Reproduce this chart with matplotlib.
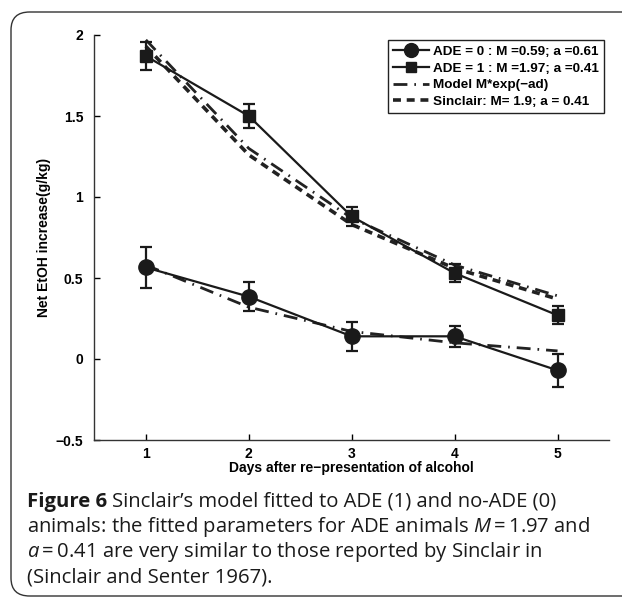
import matplotlib
matplotlib.use("Agg")
import matplotlib.pyplot as plt
from matplotlib.patches import FancyBboxPatch
from matplotlib.lines import Line2D

days = [1, 2, 3, 4, 5]
ade1_mean = [1.87, 1.50, 0.88, 0.53, 0.27]
ade1_err = [0.085, 0.075, 0.06, 0.055, 0.055]
ade0_mean = [0.565, 0.385, 0.14, 0.14, -0.07]
ade0_err = [0.125, 0.09, 0.09, 0.065, 0.10]
model1 = [1.97, 1.30, 0.87, 0.58, 0.39]
model0 = [0.58, 0.32, 0.17, 0.10, 0.05]
sinclair = [1.93, 1.26, 0.83, 0.56, 0.37]

leg_labels = ["ADE = 0 : M =0.59; a =0.61", "ADE = 1 : M =1.97; a =0.41",
              "Model M*exp(\u2212ad)", "Sinclair: M= 1.9; a = 0.41"]
yticks = [-0.5, 0, 0.5, 1, 1.5, 2]
yticklabels = ["\u22120.5", "0", "0.5", "1", "1.5", "2"]

AX_FONT = ["Liberation Sans", "DejaVu Sans"]
CAP_FONT = "Open Sans"
AFS = 10

W, H = 622, 599
fig = plt.figure(figsize=(W / 100, H / 100), dpi=100)

# card border
card = FancyBboxPatch((11 / W, 3 / H), 1.2, (H - 15) / H,
                      boxstyle="round,pad=0,rounding_size=0.03",
                      transform=fig.transFigure, fill=False,
                      edgecolor="#333333", linewidth=1.0)
fig.patches.append(card)

ax = fig.add_axes([94.4 / W, 1 - 440 / H, (609 - 94.4) / W, (440 - 35) / H])

dd = (0, (5, 2.5, 0.6, 2.5))
ax.plot(days, model1, color="#222222", lw=2.0, linestyle=dd, zorder=2)
ax.plot(days, model0, color="#222222", lw=2.0, linestyle=dd, zorder=2)
ax.plot(days, sinclair, color="#222222", lw=2.6, linestyle=(0, (2.2, 1.6)), zorder=2)

ax.errorbar(days, ade1_mean, yerr=ade1_err, color="#1a1a1a", lw=1.6, marker="s",
            markersize=8, capsize=4, capthick=1.6, elinewidth=1.6, zorder=3)
ax.errorbar(days, ade0_mean, yerr=ade0_err, color="#1a1a1a", lw=1.6, marker="o",
            markersize=11, capsize=4, capthick=1.6, elinewidth=1.6, zorder=3)

ax.set_xlim(0.5, 5.5)
ax.set_ylim(-0.5, 2)
ax.set_xticks(days)
ax.set_xticklabels([str(d) for d in days], fontfamily=AX_FONT, fontweight="bold", fontsize=AFS)
ax.set_yticks(yticks)
ax.set_yticklabels(yticklabels, fontfamily=AX_FONT, fontweight="bold", fontsize=AFS)
ax.tick_params(axis="x", direction="in", length=4, width=1, pad=5)
ax.tick_params(axis="y", direction="in", length=4, width=1, pad=8)
for s in ["top", "right"]:
    ax.spines[s].set_visible(False)
for s in ["left", "bottom"]:
    ax.spines[s].set_linewidth(1.0)
    ax.spines[s].set_color("#333333")

ax.set_xlabel("Days after re\u2212presentation of alcohol", fontfamily=AX_FONT,
              fontweight="bold", fontsize=AFS, labelpad=0)
ax.set_ylabel("Net EtOH increase(g/kg)", fontfamily=AX_FONT, fontweight="bold",
              fontsize=AFS, labelpad=3)

handles = [
    Line2D([], [], color="#1a1a1a", lw=1.6, marker="o", markersize=10),
    Line2D([], [], color="#1a1a1a", lw=1.6, marker="s", markersize=7.5),
    Line2D([], [], color="#222222", lw=2.0, linestyle=dd),
    Line2D([], [], color="#222222", lw=2.6, linestyle=(0, (2.2, 1.6))),
]
leg = ax.legend(handles, leg_labels, loc="upper right", bbox_to_anchor=(1.0 - 5 / 515, 1.0 - 5 / 405),
                prop={"family": AX_FONT, "weight": "bold", "size": 9.7},
                frameon=True, fancybox=False, edgecolor="#222222", framealpha=1,
                handlelength=2.7, handletextpad=0.25, borderpad=0.4, labelspacing=0.32,
                borderaxespad=0)
leg.get_frame().set_linewidth(1.0)

# caption
plt.rcParams["mathtext.fontset"] = "custom"
plt.rcParams["mathtext.it"] = CAP_FONT + ":italic"
plt.rcParams["mathtext.rm"] = CAP_FONT
cx = 27 / W
fs = 14.6
ys = [502, 527, 552, 577]
t1 = fig.text(cx, 1 - ys[0] / H, "Figure 6", fontfamily=CAP_FONT, fontweight="bold",
              fontsize=fs, va="center", ha="left", color="#1a1a1a")
fig.canvas.draw()
bb = t1.get_window_extent()
fig.text(bb.x1 / W + 5 / W, 1 - ys[0] / H, "Sinclair\u2019s model fitted to ADE (1) and no-ADE (0)",
         fontfamily=CAP_FONT, fontsize=fs, va="center", ha="left", color="#1a1a1a")
fig.text(cx, 1 - ys[1] / H, "animals: the fitted parameters for ADE animals $M$\u2009=\u20091.97 and",
         fontfamily=CAP_FONT, fontsize=fs, va="center", ha="left", color="#1a1a1a")
fig.text(cx, 1 - ys[2] / H, "$a$\u2009=\u20090.41 are very similar to those reported by Sinclair in",
         fontfamily=CAP_FONT, fontsize=fs, va="center", ha="left", color="#1a1a1a")
fig.text(cx, 1 - ys[3] / H, "(Sinclair and Senter 1967).",
         fontfamily=CAP_FONT, fontsize=fs, va="center", ha="left", color="#1a1a1a")

fig.savefig("out.png", dpi=100)
